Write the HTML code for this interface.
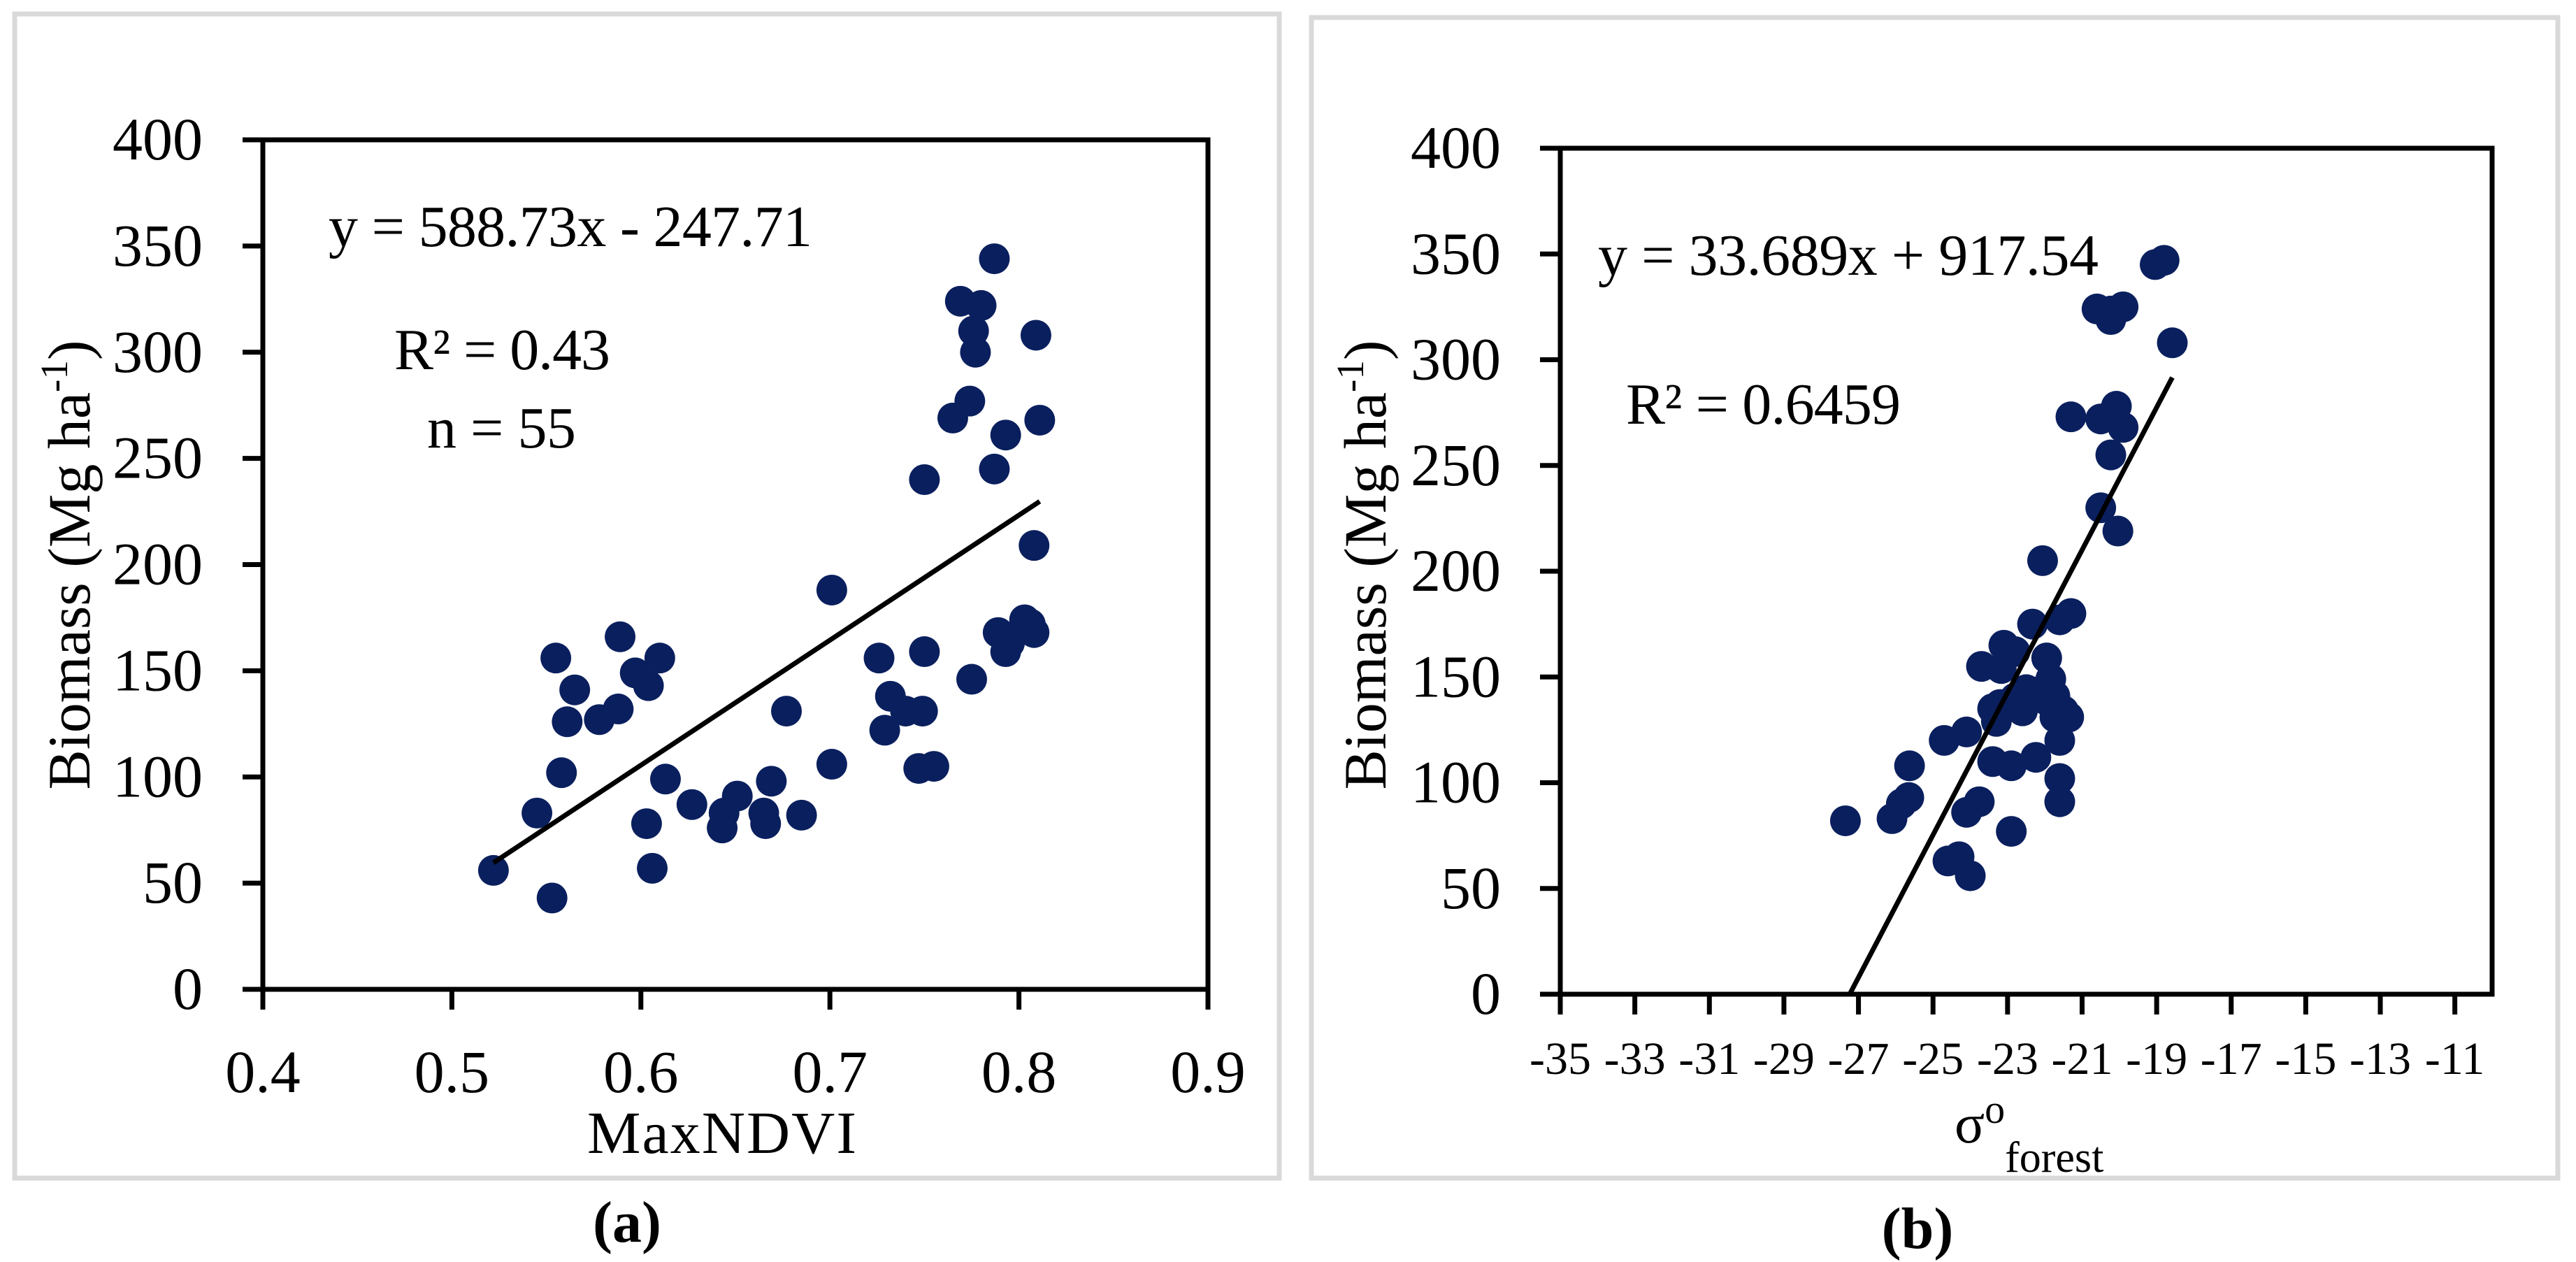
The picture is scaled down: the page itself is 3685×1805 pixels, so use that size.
<!DOCTYPE html>
<html><head><meta charset="utf-8"><style>
html,body{margin:0;padding:0;background:#fff}
svg{display:block}
text{font-family:"Liberation Serif",serif;fill:#000}
</style></head><body>
<svg id="fig" width="3685" height="1805" viewBox="0 0 3685 1805" xmlns="http://www.w3.org/2000/svg">
<rect x="21" y="20" width="1809" height="1665" fill="none" stroke="#d9d9d9" stroke-width="7"/>
<rect x="1876" y="25" width="1783" height="1660" fill="none" stroke="#d9d9d9" stroke-width="7"/>
<g id="pa"></g>
<g id="pb"></g>
</svg>
<script>
const NS='http://www.w3.org/2000/svg';
// Panel (a) data
const aXTicks=[0.4,0.5,0.6,0.7,0.8,0.9];
const aXTickLabels=['0.4','0.5','0.6','0.7','0.8','0.9'];
const aYTicks=[0,50,100,150,200,250,300,350,400];
const aYTickLabels=['0','50','100','150','200','250','300','350','400'];
const aNdvi=[0.522,0.553,0.545,0.558,0.555,0.561,0.565,0.578,0.588,0.589,0.597,0.604,0.610,0.603,0.606,0.613,0.627,0.643,0.644,0.651,0.665,0.666,0.669,0.677,0.685,0.701,0.701,0.726,0.729,0.732,0.740,0.749,0.750,0.747,0.755,0.750,0.765,0.774,0.769,0.780,0.776,0.777,0.787,0.787,0.793,0.775,0.789,0.793,0.806,0.808,0.808,0.809,0.811,0.795,0.803];
const aBiomass=[56,43,83,102,156,126,141,127,132,166,149,143,156,78,57,99,87,76,83,91,83,78,98,131,82,188,106,156,122,138,131,131,159,104,105,240,269,277,324,322,310,300,344,245,261,146,168,159,172,168,209,308,268,163,174];
const aSlope=588.73, aIntercept=-247.71, aFitX=[0.522,0.811];
// Panel (b) data
const bXTicks=[-35,-33,-31,-29,-27,-25,-23,-21,-19,-17,-15,-13,-11];
const bXTickLabels=['-35','-33','-31','-29','-27','-25','-23','-21','-19','-17','-15','-13','-11'];
const bYTicks=[0,50,100,150,200,250,300,350,400];
const bYTickLabels=['0','50','100','150','200','250','300','350','400'];
const bSigma=[-27.35,-26.1,-25.85,-25.65,-25.63,-24.7,-24.1,-24.6,-24.3,-24.0,-24.1,-23.76,-23.7,-23.4,-23.3,-23.4,-23.17,-23.1,-22.8,-22.9,-22.9,-22.8,-22.5,-22.33,-22.24,-22.06,-21.95,-22.17,-21.95,-21.73,-21.73,-21.6,-21.5,-21.36,-21.6,-21.6,-21.6,-21.3,-21.3,-20.5,-20.04,-20.5,-20.23,-20.08,-19.9,-20.6,-20.23,-19.9,-19.04,-18.8,-18.58,-20.23,-22.6,-21.84,-23.2];
const bBiomass=[82,83,90,93,108,120,124,63,65,56,86,91,155,135,129,110,154,165,162,108,77,140,144,175,112,205,159,143,139,141,131,120,134,131,102,91,177,180,273,230,219,272,255,278,268,324,319,325,345,347,308,323,134,149,137];
const bSlope=33.689, bIntercept=917.54, bFitX=[-27.235,-18.58];

function el(parent,tag,attrs,txt){const e=document.createElementNS(NS,tag);for(const k in attrs)e.setAttribute(k,attrs[k]);if(txt!==undefined)e.textContent=txt;parent.appendChild(e);return e;}

function panel(g,cfg){
  const sx=v=>cfg.x0+(v-cfg.xmin)/(cfg.xmax-cfg.xmin)*(cfg.x1-cfg.x0);
  const sy=v=>cfg.y1-(v-cfg.ymin)/(cfg.ymax-cfg.ymin)*(cfg.y1-cfg.y0);
  const frame=el(g,'rect',{x:cfg.x0,y:cfg.y0,width:cfg.x1-cfg.x0,height:cfg.y1-cfg.y0,fill:'none',stroke:'#000','stroke-width':7});
  
  
  cfg.yt.forEach((v,i)=>{
    const t=el(g,'line',{x1:cfg.x0-29,x2:cfg.x0,y1:sy(v),y2:sy(v),stroke:'#000','stroke-width':7});
    
    
    const l=el(g,'text',{x:cfg.ylx,y:sy(v)+28,'text-anchor':'end','font-size':86},cfg.ytl[i]);
    
    
  });
  cfg.xt.forEach((v,i)=>{
    const t=el(g,'line',{x1:sx(v),x2:sx(v),y1:cfg.y1,y2:cfg.y1+29,stroke:'#000','stroke-width':7});
    
    
    const l=el(g,'text',{x:sx(v),y:cfg.xly,'text-anchor':'middle','font-size':cfg.xfs},cfg.xtl[i]);
    
    
  });
  cfg.xs.forEach((v,i)=>{
    const c=el(g,'circle',{cx:sx(v),cy:sy(cfg.ys[i]),r:22,fill:'#0a1f5e'});
    
    
  });
  const f=cfg.fit;
  const ln=el(g,'line',{x1:sx(f[0]),y1:sy(cfg.m*f[0]+cfg.b),x2:sx(f[1]),y2:sy(cfg.m*f[1]+cfg.b),stroke:'#000','stroke-width':7});
  
  
}
const pa=document.getElementById('pa'), pb=document.getElementById('pb');
panel(pa,{x0:376,x1:1728,y0:200,y1:1415,xmin:0.4,xmax:0.9,ymin:0,ymax:400,xt:aXTicks,xtl:aXTickLabels,yt:aYTicks,ytl:aYTickLabels,xs:aNdvi,ys:aBiomass,m:aSlope,b:aIntercept,fit:aFitX,ylx:290,xly:1562,xfs:86});
panel(pb,{x0:2232,x1:3565,y0:212,y1:1422,xmin:-35,xmax:-10,ymin:0,ymax:400,xt:bXTicks,xtl:bXTickLabels,yt:bYTicks,ytl:bYTickLabels,xs:bSigma,ys:bBiomass,m:bSlope,b:bIntercept,fit:bFitX,ylx:2147,xly:1536,xfs:66});
</script>
<script>
const s=document.getElementById('fig');
s.insertAdjacentHTML('beforeend',`
<text x="470" y="352" font-size="84" textLength="692">y = 588.73x - 247.71</text>
<text x="564" y="528" font-size="84" textLength="309">R² = 0.43</text>
<text x="611" y="640" font-size="84" textLength="213">n = 55</text>
<text transform="translate(128,808) rotate(-90)" text-anchor="middle" font-size="86">Biomass (Mg ha<tspan font-size="55" dy="-32">-1</tspan><tspan dy="32">)</tspan></text>
<text x="840" y="1649" font-size="86" textLength="385">MaxNDVI</text>
<text x="897" y="1776" text-anchor="middle" font-size="84" font-weight="bold">(a)</text>
<text x="2286" y="393" font-size="84" textLength="716">y = 33.689x + 917.54</text>
<text x="2326" y="606" font-size="84" textLength="393">R² = 0.6459</text>
<text transform="translate(1982,808) rotate(-90)" text-anchor="middle" font-size="86">Biomass (Mg ha<tspan font-size="55" dy="-32">-1</tspan><tspan dy="32">)</tspan></text>
<text x="2796" y="1634" font-size="80">σ<tspan font-size="58" dy="-28">o</tspan><tspan font-size="62" dy="70">forest</tspan></text>
<text x="2743" y="1785" text-anchor="middle" font-size="84" font-weight="bold">(b)</text>
`);
</script>
</body></html>
